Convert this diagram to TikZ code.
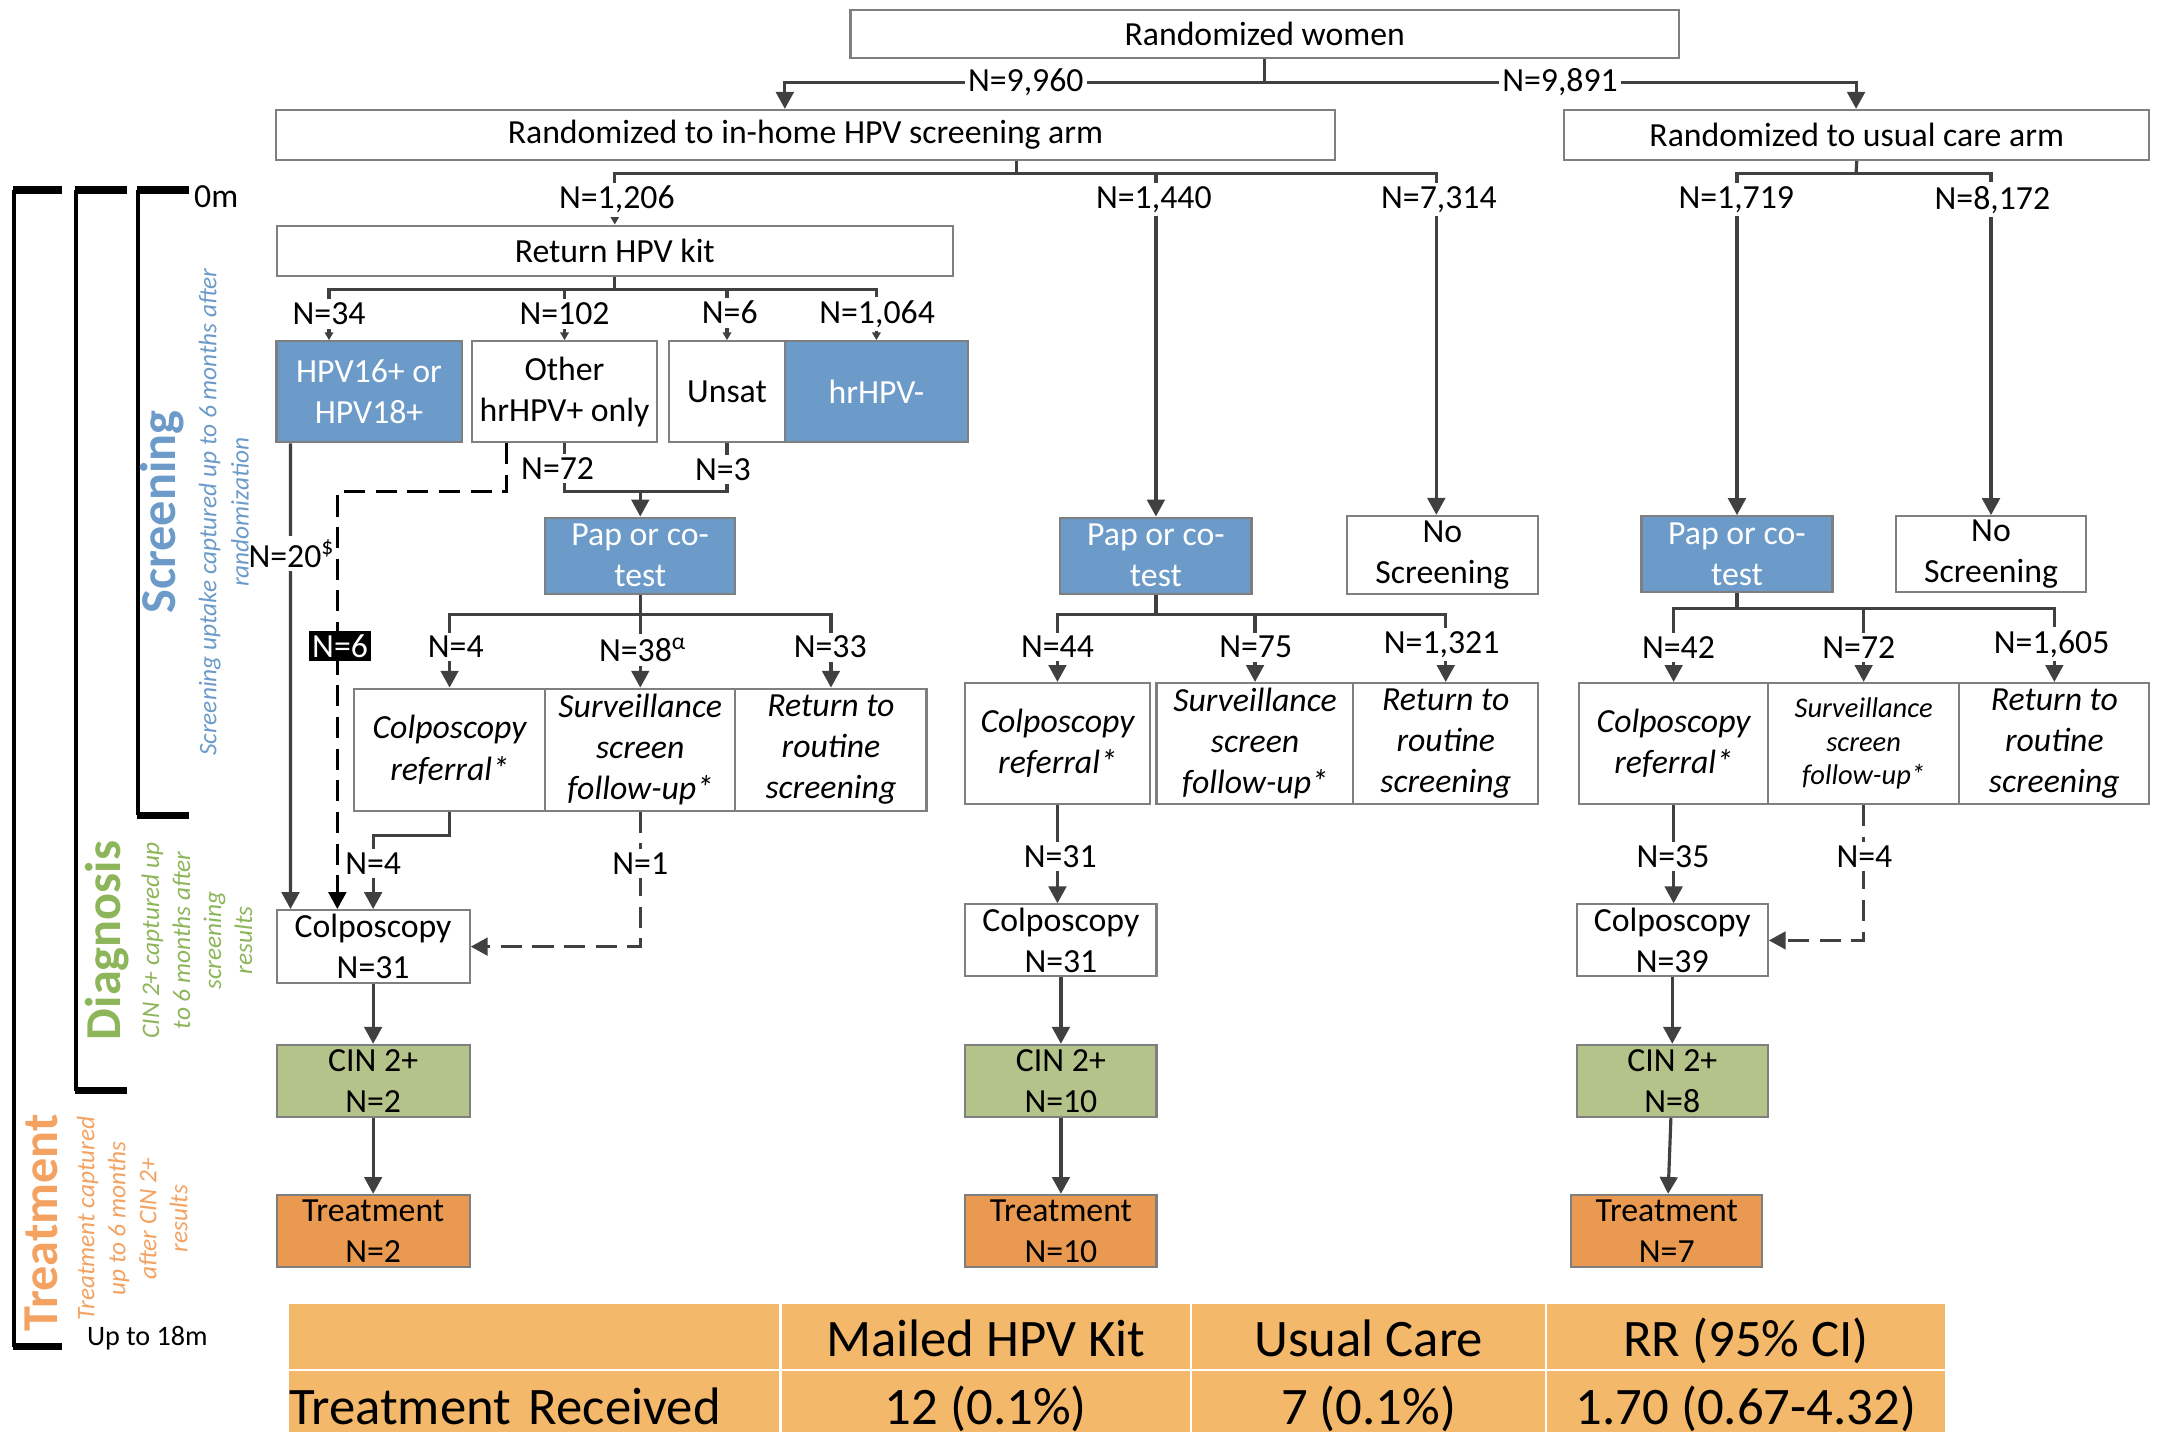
\documentclass[tikz,border=0pt]{standalone}
\usepackage{fontspec}
\setmainfont{Carlito}
\usepackage{tikz}
\usetikzlibrary{arrows.meta}

\definecolor{boxblue}{HTML}{6C9BC9}
\definecolor{boxgreen}{HTML}{B3C389}
\definecolor{boxorange}{HTML}{EA9950}
\definecolor{tableorange}{HTML}{F4B86B}
\definecolor{textblue}{HTML}{6C9BC9}
\definecolor{textgreen}{HTML}{8DB55A}
\definecolor{textorange}{HTML}{F3A262}
\definecolor{linegray}{HTML}{404040}
\definecolor{bordergray}{HTML}{7F7F7F}

\tikzstyle{box}      = [rectangle, draw=bordergray, line width=0.6pt, fill=white,
                        align=center, inner xsep=1pt, inner ysep=0pt,
                        font=\fontsize{9.6}{11.7}\selectfont]
\tikzstyle{bluebox}  = [box, fill=boxblue, text=white]
\tikzstyle{greenbox} = [box, fill=boxgreen]
\tikzstyle{orangebox}= [box, fill=boxorange]
\tikzstyle{outcome}  = [box, font=\fontsize{9.6}{11.7}\selectfont\itshape,
                        minimum height=1.22cm]
\tikzstyle{nlabel}   = [fill=white, inner sep=1pt, font=\fontsize{9.6}{11.7}\selectfont]
\tikzstyle{arrow}    = [-{Triangle[length=4.8pt, width=5pt]}, line width=0.9pt, color=linegray]
\tikzstyle{tinyarrow}= [-{Triangle[length=2.2pt, width=2.4pt]}, line width=0.9pt, color=linegray]
\tikzstyle{connector}= [line width=0.9pt, color=linegray]
\tikzstyle{dasharrow}= [arrow, dash pattern=on 6pt off 3pt]
\tikzstyle{blackdash}= [dasharrow, color=black]
\tikzstyle{bracket}  = [line width=1.1pt, color=black]
\tikzstyle{bracketend}=[line width=2pt, color=black]
\tikzstyle{phase}    = [rotate=90, font=\fontsize{14.3}{16}\selectfont\bfseries]
\tikzstyle{phasenote}= [rotate=90, align=center, font=\fontsize{7.2}{8.8}\selectfont\itshape]
\tikzstyle{cell}     = [fill=tableorange, inner sep=0pt, font=\fontsize{15}{18}\selectfont]
\tikzstyle{headcell} = [cell, minimum height=0.647cm, text height=0.40cm, text depth=0cm]
\tikzstyle{bodycell} = [cell, minimum height=0.77cm, text height=0.30cm, text depth=0cm]

\begin{document}
\begin{tikzpicture}[x=0.01377cm, y=-0.01377cm]
  \useasboundingbox (0,0) rectangle (1568,1040);
  \clip (0,0) rectangle (1568,1040);

  %% Randomization
  \node[box, minimum width=8.28cm, minimum height=0.48cm] (women) at (918.5,24.5)
        {Randomized women};
  \node[box, minimum width=10.58cm, minimum height=0.5cm] (inhome) at (585,98)
        {Randomized to in-home HPV screening arm};
  \node[box, minimum width=5.85cm, minimum height=0.5cm] (usual) at (1348.5,98)
        {Randomized to usual care arm};

  %% In-home arm: kit returners
  \node[box, minimum width=6.76cm, minimum height=0.5cm] (kit) at (446.5,182)
        {Return HPV kit};
  \node[bluebox, minimum width=1.85cm, minimum height=1.01cm] (hpv1618) at (268,284.5)
        {HPV16+ or\\HPV18+};
  \node[box, minimum width=1.85cm, minimum height=1.01cm] (other) at (410,284.5)
        {Other\\hrHPV+ only};
  \node[box, minimum width=1.16cm, minimum height=1.01cm] (unsat) at (528,284.5)
        {Unsat};
  \node[bluebox, minimum width=1.83cm, minimum height=1.01cm] (hrneg) at (636.5,284.5)
        {hrHPV-};
  \node[bluebox, minimum width=1.90cm, minimum height=0.76cm] (papA) at (465,403.5)
        {Pap or co-\\test};
  \node[outcome, minimum width=1.91cm] (refA) at (326.5,544.5)
        {Colposcopy\\referral*};
  \node[outcome, minimum width=1.90cm] (survA) at (465,544.5)
        {Surveillance\\screen\\follow-up*};
  \node[outcome, minimum width=1.91cm] (retA) at (603.5,544.5)
        {Return to\\routine\\screening};
  \node[box, minimum width=1.93cm, minimum height=0.73cm] (colpA) at (271,687.5)
        {Colposcopy\\N=31};
  \node[greenbox, minimum width=1.93cm, minimum height=0.72cm] (cinA) at (271,785)
        {CIN 2+\\N=2};
  \node[orangebox, minimum width=1.93cm, minimum height=0.72cm] (trtA) at (271,894)
        {Treatment\\N=2};

  %% In-home arm: other screening
  \node[bluebox, minimum width=1.91cm, minimum height=0.76cm] (papB) at (839.5,403.5)
        {Pap or co-\\test};
  \node[box, minimum width=1.91cm, minimum height=0.78cm] (noB) at (1047.5,403)
        {No\\Screening};
  \node[outcome, minimum width=1.85cm, minimum height=1.21cm] (refB) at (768,540)
        {Colposcopy\\referral*};
  \node[outcome, minimum width=1.97cm, minimum height=1.21cm] (survB) at (911.5,540)
        {Surveillance\\screen\\follow-up*};
  \node[outcome, minimum width=1.85cm, minimum height=1.21cm] (retB) at (1050,540)
        {Return to\\routine\\screening};
  \node[box, minimum width=1.91cm, minimum height=0.72cm] (colpB) at (770.5,683)
        {Colposcopy\\N=31};
  \node[greenbox, minimum width=1.91cm, minimum height=0.72cm] (cinB) at (770.5,785)
        {CIN 2+\\N=10};
  \node[orangebox, minimum width=1.91cm, minimum height=0.72cm] (trtB) at (770.5,894)
        {Treatment\\N=10};

  %% Usual care arm
  \node[bluebox, minimum width=1.91cm, minimum height=0.76cm] (papC) at (1261.5,402.5)
        {Pap or co-\\test};
  \node[box, minimum width=1.90cm, minimum height=0.76cm] (noC) at (1446,402.5)
        {No\\Screening};
  \node[outcome, minimum width=1.89cm, minimum height=1.21cm] (refC) at (1215.5,540)
        {Colposcopy\\referral*};
  \node[outcome, minimum width=1.91cm, minimum height=1.21cm,
        font=\fontsize{8.1}{9.6}\selectfont\itshape] (survC) at (1353.5,540)
        {Surveillance\\screen\\follow-up*};
  \node[outcome, minimum width=1.90cm, minimum height=1.21cm] (retC) at (1492,540)
        {Return to\\routine\\screening};
  \node[box, minimum width=1.91cm, minimum height=0.72cm] (colpC) at (1214.5,683)
        {Colposcopy\\N=39};
  \node[greenbox, minimum width=1.91cm, minimum height=0.72cm] (cinC) at (1214.5,785)
        {CIN 2+\\N=8};
  \node[orangebox, minimum width=1.91cm, minimum height=0.72cm] (trtC) at (1210.5,894)
        {Treatment\\N=7};

  %% Arrows: randomization
  \coordinate (armL) at (570,60);
  \coordinate (armR) at (1348,60);
  \draw[arrow] (women.south) |- (armL) -- (armL |- inhome.north);
  \draw[arrow] (women.south) |- (armR) -- (armR |- usual.north);

  \coordinate (homeJ) at (738,126);
  \draw[connector] (homeJ |- inhome.south) -- (homeJ);
  \draw[tinyarrow] (homeJ) -| (kit.north);
  \draw[arrow] (homeJ) -| (papB.north);
  \draw[arrow] (homeJ) -| ([xshift=-0.06cm]noB.north);

  \coordinate (usualJ) at (1348,126);
  \draw[connector] (usual.south) -- (usualJ);
  \draw[arrow] (usualJ) -| (papC.north);
  \draw[arrow] (usualJ) -| (noC.north);

  %% Arrows: kit results
  \coordinate (kitJ) at (446.5,210);
  \draw[connector] (kit.south) -- (kitJ);
  \draw[tinyarrow] (kitJ) -| ([xshift=-0.40cm]hpv1618.north);
  \draw[tinyarrow] (kitJ) -| (other.north);
  \draw[tinyarrow] (kitJ) -| (unsat.north);
  \draw[tinyarrow] (kitJ) -| (hrneg.north);

  \coordinate (papJ) at (465,357);
  \draw[connector] (other.south) |- (papJ);
  \draw[connector] (unsat.south) |- (papJ);
  \draw[arrow] (papJ) -- (papA.north);

  \draw[arrow] ([xshift=-0.785cm]hpv1618.south) -- ([xshift=-0.826cm]colpA.north);
  \coordinate (sixJ) at (245,357);
  \draw[blackdash] ([xshift=-0.578cm]other.south) |- (sixJ) -- (sixJ |- colpA.north);

  \coordinate (papAJ) at (465,446);
  \draw[connector] (papA.south) -- (papAJ);
  \draw[arrow] (papAJ) -| (refA.north);
  \draw[arrow] (papAJ) -- (survA.north);
  \draw[arrow] (papAJ) -| (retA.north);
  \draw[arrow] (refA.south) -- ++(0,17) -| (colpA.north);
  \draw[dasharrow] (survA.south) |- (colpA.east);
  \draw[arrow] (colpA) -- (cinA);
  \draw[arrow] (cinA) -- (trtA);

  %% Arrows: other screening
  \coordinate (papBJ) at (839.5,446);
  \draw[connector] (papB.south) -- (papBJ);
  \draw[arrow] (papBJ) -| (refB.north);
  \draw[arrow] (papBJ) -| (survB.north);
  \draw[arrow] (papBJ) -| (retB.north);
  \draw[arrow] (refB.south) -- (refB.south |- colpB.north);
  \draw[arrow] (colpB) -- (cinB);
  \draw[arrow] (cinB) -- (trtB);

  %% Arrows: usual care
  \coordinate (papCJ) at (1261.5,442);
  \draw[connector] (papC.south) -- (papCJ);
  \draw[arrow] (papCJ) -| (refC.north);
  \draw[arrow] (papCJ) -| (survC.north);
  \draw[arrow] (papCJ) -| (retC.north);
  \draw[arrow] (refC.south) -- (refC.south |- colpC.north);
  \draw[dasharrow] (survC.south) |- (colpC.east);
  \draw[arrow] (colpC) -- (cinC);
  \draw[arrow] (cinC) -- (trtC);

  %% Counts
  \node[nlabel] (n9960) at (745,60) {N=9,960};
  \node[nlabel] (n9891) at (1133,60) {N=9,891};
  \node[nlabel] (n1206) at (448,145) {N=1,206};
  \node[nlabel] (n1440) at (838,145) {N=1,440};
  \node[nlabel] (n7314) at (1045,145) {N=7,314};
  \node[nlabel] (n1719) at (1261,145) {N=1,719};
  \node[nlabel] (n8172) at (1447,145) {N=8,172};
  \node[nlabel] (n34) at (239,228) {N=34};
  \node[nlabel] (n102) at (410,228) {N=102};
  \node[nlabel] (n6) at (530,227) {N=6};
  \node[nlabel] (n1064) at (637,228) {N=1,064};
  \node[nlabel] (n72) at (405,340) {N=72};
  \node[nlabel] (n3) at (525,341) {N=3};
  \node[nlabel, inner xsep=0pt] (n20) at (212,402) {N=20\textsuperscript{\$}};
  \node[nlabel, fill=black, text=white] (n6dir) at (247,469) {N=6};
  \node[nlabel] (n4a) at (331,470) {N=4};
  \node[nlabel] (n38) at (467,472) {N=38\textsuperscript{α}};
  \node[nlabel] (n33) at (603,470) {N=33};
  \node[nlabel] (n4b) at (271,627) {N=4};
  \node[nlabel] (n1) at (465,627) {N=1};
  \node[nlabel] (n44) at (768,470) {N=44};
  \node[nlabel] (n75) at (912,470) {N=75};
  \node[nlabel] (n1321) at (1047,468) {N=1,321};
  \node[nlabel] (n31) at (770,622) {N=31};
  \node[nlabel] (n42) at (1219,470) {N=42};
  \node[nlabel] (n72c) at (1350,470) {N=72};
  \node[nlabel] (n1605) at (1490,468) {N=1,605};
  \node[nlabel] (n35) at (1215,622) {N=35};
  \node[nlabel] (n4c) at (1354,622) {N=4};

  %% Timeline
  \draw[bracket] (10,138) -- (10,978);
  \draw[bracket] (55,138) -- (55,792);
  \draw[bracket] (100,138) -- (100,592);
  \draw[bracketend] (9.5,138) -- (45,138);
  \draw[bracketend] (54.5,138) -- (92,138);
  \draw[bracketend] (99.5,138) -- (137,138);
  \draw[bracketend] (99.5,592) -- (137,592);
  \draw[bracketend] (54.5,792) -- (92,792);
  \draw[bracketend] (9.5,978) -- (45,978);
  \node[font=\fontsize{9.6}{11.7}\selectfont] (start) at (157,143) {0m};
  \node[font=\fontsize{8}{10}\selectfont] (finish) at (107,972) {Up to 18m};

  \node[phase, text=textblue] (screening) at (118,372) {Screening};
  \node[phasenote, text=textblue, font=\fontsize{7.2}{9.2}\selectfont\itshape]
        (screennote) at (162.5,372)
        {Screening uptake captured up to 6 months after\\randomization};
  \node[phase, text=textgreen] (diagnosis) at (78,683) {Diagnosis};
  \node[phasenote, text=textgreen] (diagnote) at (143,683)
        {CIN 2+ captured up\\to 6 months after\\screening\\results};
  \node[phase, text=textorange] (treatment) at (30,888) {Treatment};
  \node[phasenote, text=textorange] (treatnote) at (96,885)
        {Treatment captured\\up to 6 months\\after CIN 2+\\results};

  %% Summary table
  \node[headcell, minimum width=4.90cm] (thead) at (388,970.5) {};
  \node[headcell, minimum width=4.08cm] (tkit) at (716,970.5) {Mailed HPV Kit};
  \node[headcell, minimum width=3.53cm] (tusual) at (994,970.5) {Usual Care};
  \node[headcell, minimum width=3.97cm] (trr) at (1268,970.5) {RR (95\% CI)};
  \node[bodycell, text width=4.90cm, align=left] (trow) at (388,1024) {Treatment Received};
  \node[bodycell, minimum width=4.08cm] (tkitval) at (716,1024) {12 (0.1\%)};
  \node[bodycell, minimum width=3.53cm] (tusualval) at (994,1024) {7 (0.1\%)};
  \node[bodycell, minimum width=3.97cm] (trrval) at (1268,1024) {1.70 (0.67-4.32)};

\end{tikzpicture}
\end{document}
